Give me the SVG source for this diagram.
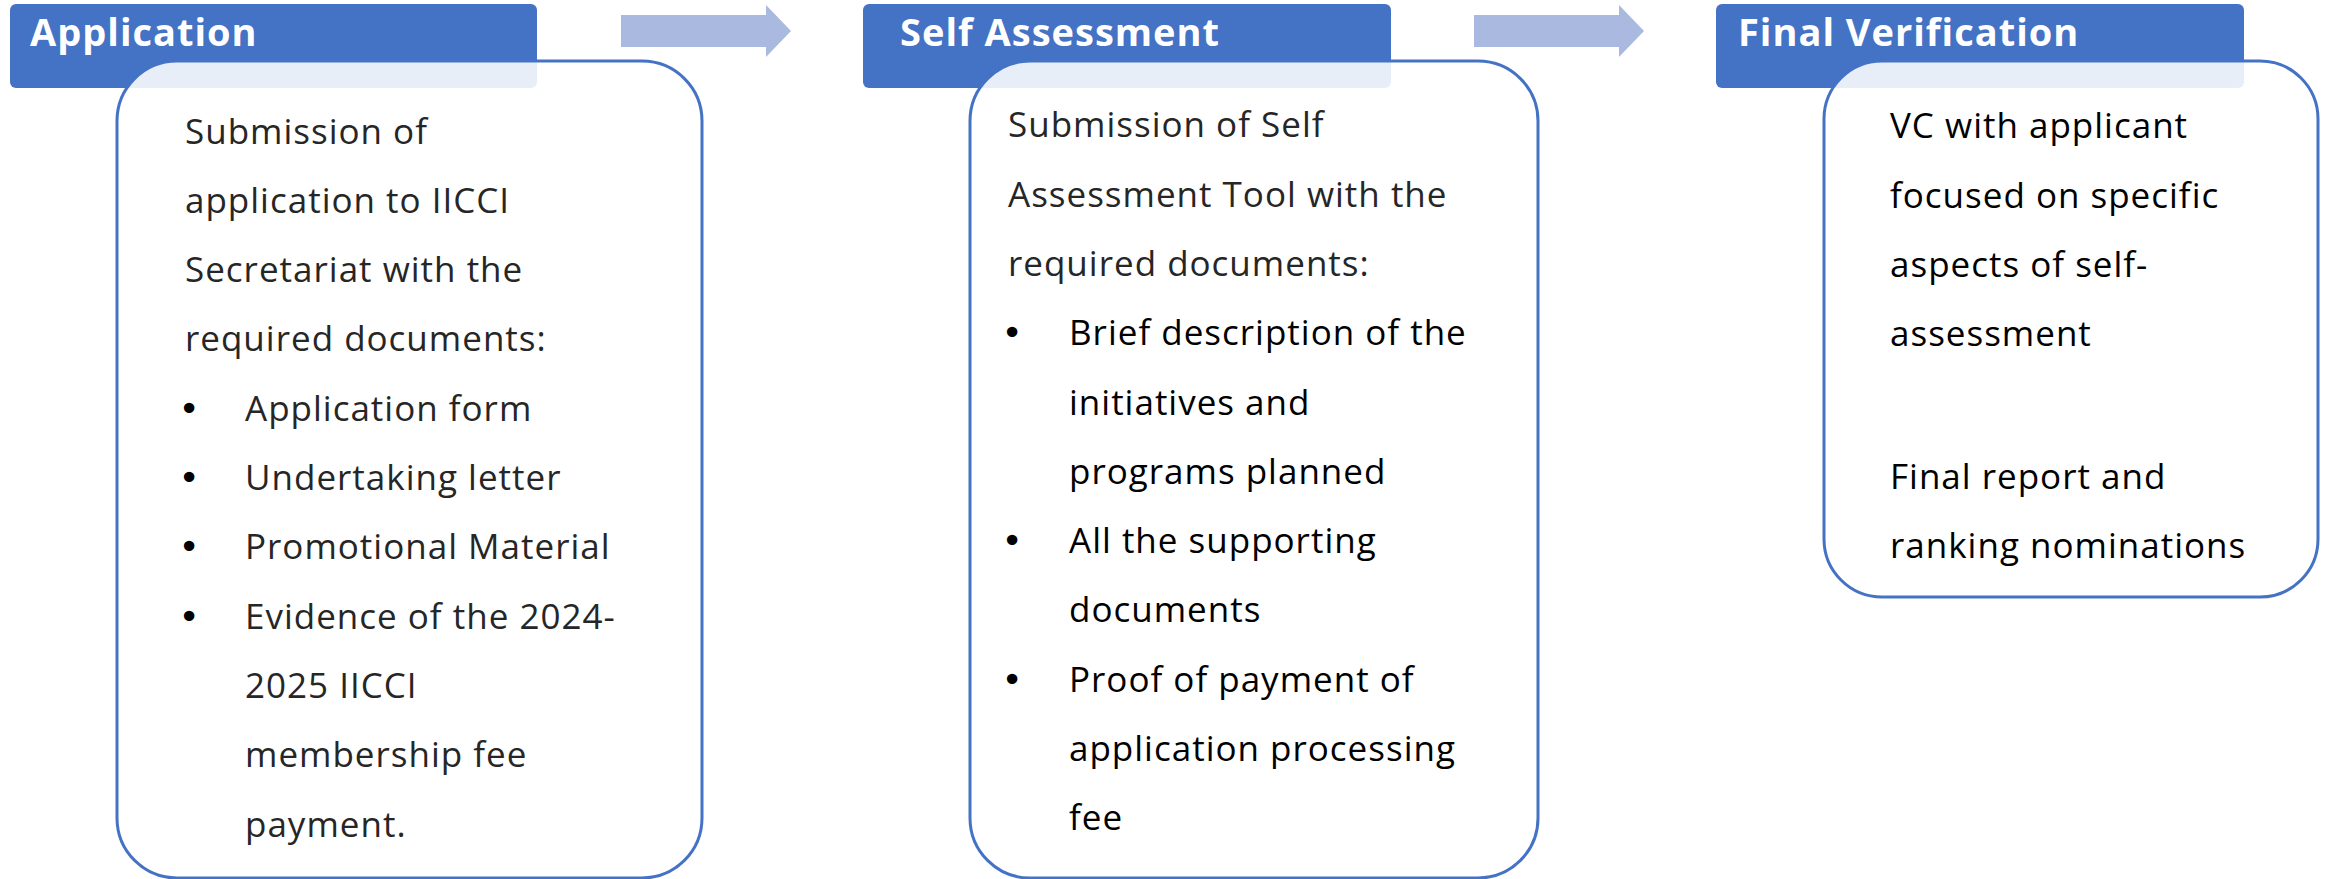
<svg xmlns="http://www.w3.org/2000/svg" width="2326" height="879" viewBox="0 0 2326 879">
<style>
.hdr{fill:#4472C4}
.hdrt{font-family:"Open Sans","Liberation Sans",sans-serif;font-weight:700;font-size:38px;fill:#ffffff;letter-spacing:1px}
.body{fill:#ffffff;fill-opacity:0.88;stroke:#4472C4;stroke-width:3}
.t{font-family:"Open Sans","Liberation Sans",sans-serif;font-size:35px;letter-spacing:1px;fill:#262626}
.k{fill:#000000}
.b{font-family:"DejaVu Sans",sans-serif;font-size:36px;fill:#000000}
.arr{fill:#AAB9E0}
</style>
<rect width="2326" height="879" fill="#ffffff"/>

<g id="node-application">
<rect class="hdr" x="10" y="4" width="527" height="84" rx="6"/>
<text class="hdrt" x="30" y="46">Application</text>
<rect class="body" x="117" y="61" width="585" height="817" rx="60"/>
<text class="t" x="185" y="143.5">Submission of</text>
<text class="t" x="185" y="212.8">application to IICCI</text>
<text class="t" x="185" y="282.1">Secretariat with the</text>
<text class="t" x="185" y="351.4">required documents:</text>
<text class="b" x="178.5" y="420.7">•</text>
<text class="t" x="245" y="420.7">Application form</text>
<text class="b" x="178.5" y="490">•</text>
<text class="t" x="245" y="490">Undertaking letter</text>
<text class="b" x="178.5" y="559.3">•</text>
<text class="t" x="245" y="559.3">Promotional Material</text>
<text class="b" x="178.5" y="628.6">•</text>
<text class="t" x="245" y="628.6">Evidence of the 2024-</text>
<text class="t" x="245" y="697.9">2025 IICCI</text>
<text class="t" x="245" y="767.2">membership fee</text>
<text class="t" x="245" y="836.5">payment.</text>
</g>

<g id="node-self-assessment">
<rect class="hdr" x="863" y="4" width="528" height="84" rx="6"/>
<text class="hdrt" x="900" y="46">Self Assessment</text>
<rect class="body" x="970" y="61" width="568" height="817" rx="60"/>
<text class="t" x="1008" y="137.3">Submission of Self</text>
<text class="t" x="1008" y="206.6">Assessment Tool with the</text>
<text class="t" x="1008" y="275.9">required documents:</text>
<text class="b" x="1001.5" y="345.2">•</text>
<text class="t k" x="1069" y="345.2">Brief description of the</text>
<text class="t k" x="1069" y="414.5">initiatives and</text>
<text class="t k" x="1069" y="483.8">programs planned</text>
<text class="b" x="1001.5" y="553.1">•</text>
<text class="t k" x="1069" y="553.1">All the supporting</text>
<text class="t k" x="1069" y="622.4">documents</text>
<text class="b" x="1001.5" y="691.7">•</text>
<text class="t k" x="1069" y="691.7">Proof of payment of</text>
<text class="t k" x="1069" y="761">application processing</text>
<text class="t k" x="1069" y="830.3">fee</text>
</g>

<g id="node-final-verification">
<rect class="hdr" x="1716" y="4" width="528" height="84" rx="6"/>
<text class="hdrt" x="1738" y="46">Final Verification</text>
<rect class="body" x="1824" y="61" width="494" height="536" rx="58"/>
<text class="t k" x="1890" y="138.3">VC with applicant</text>
<text class="t k" x="1890" y="207.6">focused on specific</text>
<text class="t k" x="1890" y="276.9">aspects of self-</text>
<text class="t k" x="1890" y="346.2">assessment</text>
<text class="t k" x="1890" y="489">Final report and</text>
<text class="t k" x="1890" y="558">ranking nominations</text>
</g>

<g id="connectors">
<polygon class="arr" points="621,15 766,15 766,5 791,31 766,57 766,47 621,47"/>
<polygon class="arr" points="1474,15 1619,15 1619,5 1644,31 1619,57 1619,47 1474,47"/>
</g>
</svg>
